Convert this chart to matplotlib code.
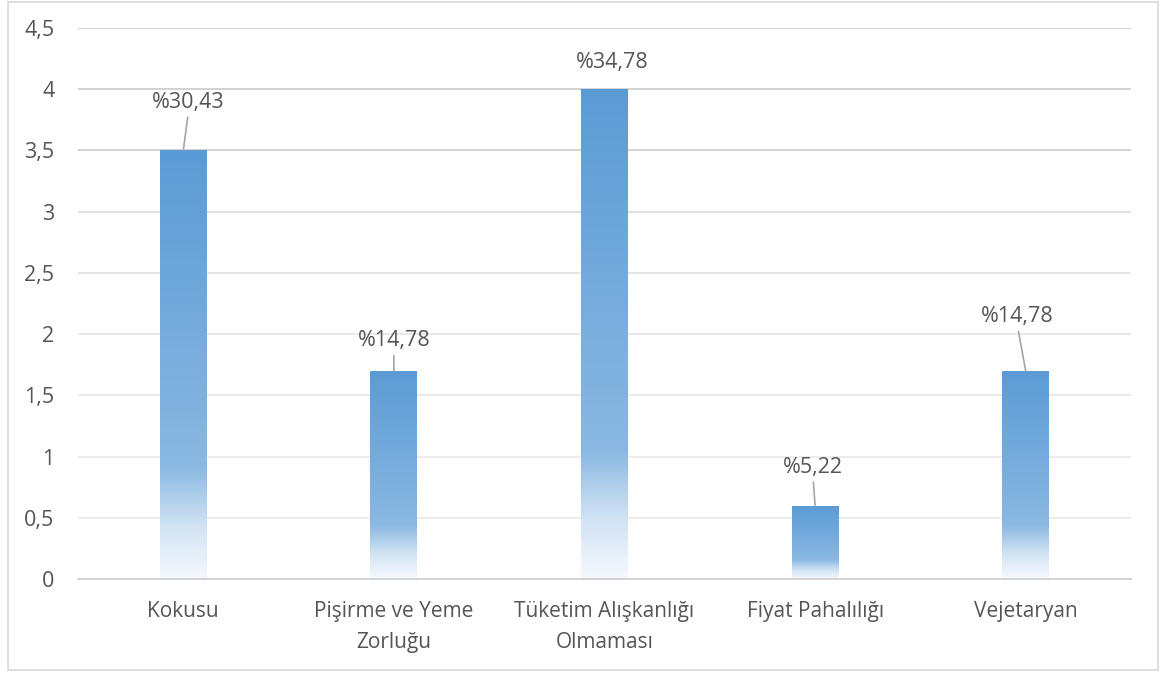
import matplotlib
matplotlib.use("Agg")
import matplotlib.pyplot as plt
import numpy as np
from matplotlib.colors import LinearSegmentedColormap
from matplotlib.patches import Rectangle

# Data
categories = ["Kokusu", "Pişirme ve Yeme\nZorluğu", "Tüketim Alışkanlığı\nOlmaması",
              "Fiyat Pahalılığı", "Vejetaryan"]
values = [3.5, 1.7, 4.0, 0.6, 1.7]
labels = ["%30,43", "%14,78", "%34,78", "%5,22", "%14,78"]
yticks = [0, 0.5, 1, 1.5, 2, 2.5, 3, 3.5, 4, 4.5]
ytick_labels = ["0", "0,5", "1", "1,5", "2", "2,5", "3", "3,5", "4", "4,5"]

# Label placement (pixel offsets from bar top) and whether a leader line is drawn
label_offsets = [(5, 48), (0, 30), (8, 27), (-2, 38), (-8, 54)]
leader = [True, True, False, True, True]

plt.rcParams["font.family"] = ["Open Sans", "DejaVu Sans"]
TEXT = "#555555"

W, H = 1165, 677
fig = plt.figure(figsize=(W / 100, H / 100), dpi=100)
fig.patch.set_facecolor("white")

# chart outer border
fig.add_artist(Rectangle((8 / W, 1 - 670 / H), (1158 - 8) / W, (670 - 2) / H,
                         transform=fig.transFigure, fill=False,
                         edgecolor="#D9D9D9", linewidth=1.2))

ax = fig.add_axes([78 / W, 1 - 579 / H, (1131 - 78) / W, (579 - 28) / H])
ax.set_facecolor("white")

x = np.arange(len(categories))

# horizontal gridlines
grid_colors = ["#E0E0E0", "#EBEBEB", "#EBEBEB", "#E8E8E8", "#E6E6E6",
               "#E4E4E4", "#DCDCDC", "#D0D0D0", "#CFCFCF", "#CFCFCF"]
for yv, c in zip(yticks[1:], grid_colors[1:]):
    ax.axhline(yv, color=c, linewidth=1.3, zorder=0)

# gradient bars
cmap = LinearSegmentedColormap.from_list(
    "bar_grad",
    [(0.0, "#5B9BD5"), (0.74, "#8AB8E2"), (0.80, "#A9CBEA"),
     (0.88, "#D2E3F4"), (1.0, "#F5F9FD")])
grad = np.linspace(0, 1, 256).reshape(-1, 1)

bars = ax.bar(x, values, width=0.223, color="none", edgecolor="none", zorder=2)
for b in bars:
    bx, by = b.get_x(), b.get_y()
    bw, bh = b.get_width(), b.get_height()
    im = ax.imshow(grad, cmap=cmap, aspect="auto", origin="upper",
                   extent=[bx, bx + bw, by, by + bh], zorder=2,
                   interpolation="bicubic")
    im.set_clip_path(b)
ax.set_xlim(-0.5, len(categories) - 0.5)
ax.set_ylim(0, 4.5)

# data labels
for xi, v, lab, off, ld in zip(x, values, labels, label_offsets, leader):
    ap = dict(arrowstyle="-", color="#A6A6A6", lw=1.2, shrinkA=1, shrinkB=0,
              relpos=(0.5, 0.0)) if ld else None
    ax.annotate(lab, xy=(xi, v), xytext=off, textcoords="offset pixels",
                ha="center", va="center", fontsize=15.5, color=TEXT,
                arrowprops=ap, zorder=4)

# axes styling
for s in ["top", "right", "left"]:
    ax.spines[s].set_visible(False)
ax.spines["bottom"].set_color("#D0D0D0")
ax.spines["bottom"].set_linewidth(1.3)
ax.spines["bottom"].set_zorder(3)

ax.set_yticks(yticks)
ax.set_yticklabels(ytick_labels)
ax.set_xticks(x)
ax.set_xticklabels(categories, linespacing=1.6)
ax.tick_params(axis="y", length=0, pad=17, labelsize=15.5, labelcolor=TEXT)
ax.tick_params(axis="x", length=0, pad=16, labelsize=15, labelcolor=TEXT)

fig.savefig("out.png", dpi=100, facecolor="white")
